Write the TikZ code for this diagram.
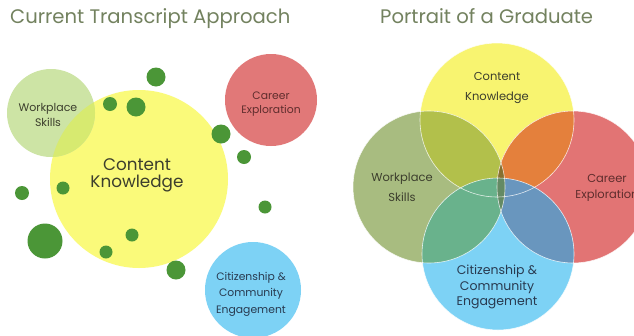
\documentclass[tikz,border=0pt]{standalone}
\usepackage{fontspec}
\setmainfont{Poppins}
\definecolor{titlecol}{RGB}{115,130,95}
\definecolor{inkdark}{RGB}{60,62,45}
\definecolor{inkred}{RGB}{95,45,45}
\definecolor{inkblue}{RGB}{40,58,80}
\definecolor{dotgreen}{RGB}{75,150,55}
% left cluster
\definecolor{lyellow}{RGB}{250,250,122}
\definecolor{lgreen}{RGB}{205,228,165}
\definecolor{lgreenyel}{RGB}{215,234,112}
\definecolor{lred}{RGB}{225,120,120}
\definecolor{lblue}{RGB}{125,210,245}
% right venn
\definecolor{vyellow}{RGB}{248,244,112}
\definecolor{vgreen}{RGB}{168,188,128}
\definecolor{vred}{RGB}{226,116,116}
\definecolor{vblue}{RGB}{125,210,245}
\definecolor{vyg}{RGB}{178,192,75}
\definecolor{vyr}{RGB}{228,128,60}
\definecolor{vgb}{RGB}{105,178,140}
\definecolor{vrb}{RGB}{105,150,190}
\definecolor{vygr}{RGB}{135,112,48}
\definecolor{vgrb}{RGB}{100,138,100}
\tikzset{
  title/.style={anchor=base west, inner sep=0pt, text=titlecol, font=\fontsize{19.6}{22}\selectfont},
  label/.style={align=center, inner sep=0pt, text=inkdark},
  dot/.style={fill=dotgreen},
  rim/.style={draw=white, line width=0.6pt, draw opacity=0.8}
}
\begin{document}
\begin{tikzpicture}[x=1pt,y=-1pt]
\useasboundingbox (0,0) rectangle (634,335);
\fill[white] (0,0) rectangle (634,335);

% ---------- left: separate bubbles ----------
\coordinate (cwork) at (51,113);
\coordinate (ccont) at (139,179);
\coordinate (ccar) at (271,100);
\coordinate (ccit) at (253,290);

\fill[lyellow] (ccont) circle (89);
\fill[lgreen] (cwork) circle (44);
\begin{scope}
  \clip (ccont) circle (89);
  \fill[lgreenyel] (cwork) circle (44);
\end{scope}
\fill[lred] (ccar) circle (46);
\fill[lblue] (ccit) circle (48);

% scattered green dots
\foreach \x/\y/\r in {156/77/9.5, 110/104/7, 136/107/9.5, 221/134/9.5, 244/157/7,
                      22/193/7, 63/188/6.5, 45/241/17.5, 132/235/6.5, 106/252/6.5,
                      176/270/9.5, 265/207/6.5}
  \fill[dot] (\x,\y) circle (\r);

\node[title] (t1) at (10,23) {Current Transcript Approach};
\node[label, font=\fontsize{16.8}{17}\selectfont] (lk) at (137,175) {Content\\Knowledge};
\node[label, font=\fontsize{11}{14.5}\selectfont] (lw) at (48,115) {Workplace\\Skills};
\node[label, text=inkred, font=\fontsize{10.8}{14}\selectfont] (lc) at (271,104) {Career\\Exploration};
\node[label, text=inkblue, font=\fontsize{10.8}{16.5}\selectfont] (lz) at (251,294) {Citizenship \&\\Community\\Engagement};

% ---------- right: overlapping venn ----------
\coordinate (vy) at (497,120);
\coordinate (vg) at (429,187);
\coordinate (vr) at (573,187);
\coordinate (vb) at (498,254);

\fill[vyellow] (vy) circle (77);
\fill[vgreen] (vg) circle (76);
\fill[vred] (vr) circle (76);
\fill[vblue] (vb) circle (76);
\begin{scope}\clip (vy) circle (77); \fill[vyg] (vg) circle (76); \end{scope}
\begin{scope}\clip (vy) circle (77); \fill[vyr] (vr) circle (76); \end{scope}
\begin{scope}\clip (vb) circle (76); \fill[vgb] (vg) circle (76); \end{scope}
\begin{scope}\clip (vb) circle (76); \fill[vrb] (vr) circle (76); \end{scope}
\begin{scope}\clip (vg) circle (76); \clip (vr) circle (76); \fill[vygr] (vy) circle (77); \end{scope}
\begin{scope}\clip (vg) circle (76); \clip (vr) circle (76); \fill[vgrb] (vb) circle (76); \end{scope}
\draw[rim] (vy) circle (77);
\draw[rim] (vg) circle (76);
\draw[rim] (vr) circle (76);
\draw[rim] (vb) circle (76);

\node[title] (t2) at (380,23) {Portrait of a Graduate};
\node[label, font=\fontsize{11.5}{19.5}\selectfont] (rk) at (497,88) {Content\\Knowledge};
\node[label, font=\fontsize{11.5}{20}\selectfont] (rw) at (402,187) {Workplace\\Skills};
\node[label, text=inkred, font=\fontsize{11.5}{15.5}\selectfont] (rc) at (607,188) {Career\\Exploration};
\node[label, text=inkblue, font=\fontsize{12.5}{15.5}\selectfont] (rz) at (497,287) {Citizenship \&\\Community\\Engagement};
\end{tikzpicture}
\end{document}
